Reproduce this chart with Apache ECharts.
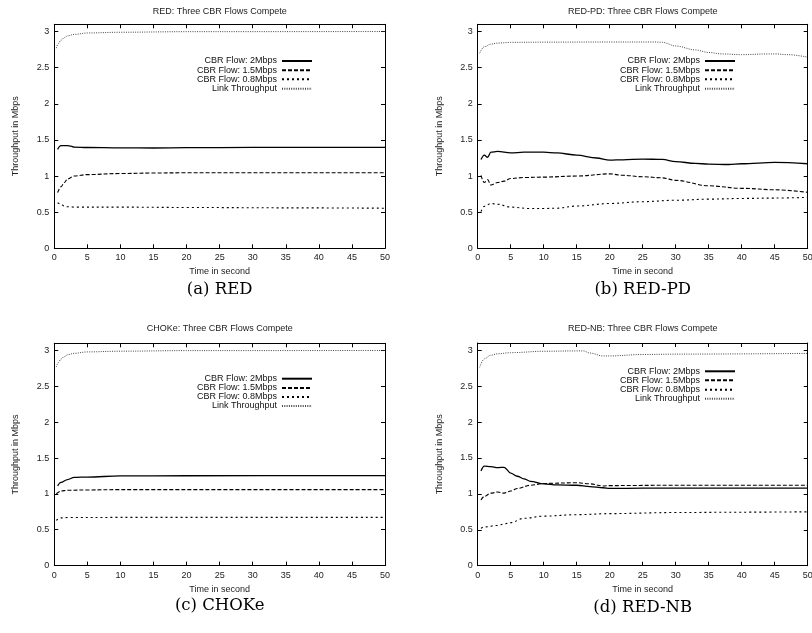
<!DOCTYPE html>
<html>
<head>
<meta charset="utf-8">
<script src="https://cdn.jsdelivr.net/npm/echarts@6/dist/echarts.min.js"></script>
<style>
  html, body { margin: 0; padding: 0; background: #fff; }
  #chart { width: 812px; height: 633px; }
</style>
</head>
<body>
<div id="chart"></div>
<script>
// 系列名称
const seriesNames = ['CBR Flow: 2Mbps', 'CBR Flow: 1.5Mbps', 'CBR Flow: 0.8Mbps', 'Link Throughput'];
const panelTitles = ['RED: Three CBR Flows Compete', 'RED-PD: Three CBR Flows Compete',
                     'CHOKe: Three CBR Flows Compete', 'RED-NB: Three CBR Flows Compete'];
const captions = ['(a) RED', '(b) RED-PD', '(c) CHOKe', '(d) RED-NB'];

// (a) RED  [time, Mbps]
const redFlow2 = [[0.5,1.37],[1,1.42],[2,1.42],[2.5,1.415],[3,1.40],[5,1.395],[10,1.39],[15,1.388],[20,1.392],[30,1.397],[40,1.398],[50,1.398]];
const redFlow15 = [[0.5,0.77],[1,0.85],[1.5,0.91],[2,0.96],[3,1.0],[5,1.02],[10,1.035],[15,1.042],[20,1.045],[30,1.046],[50,1.046]];
const redFlow08 = [[0.5,0.63],[1,0.61],[1.5,0.585],[2,0.575],[3,0.57],[10,0.57],[20,0.565],[35,0.56],[50,0.555]];
const redLink = [[0.3,2.77],[0.6,2.83],[1,2.88],[1.5,2.915],[2,2.94],[3,2.96],[5,2.98],[10,2.99],[20,2.998],[50,3.0]];

// (b) RED-PD
const rpFlow2 = [[0.5,1.23],[1,1.29],[1.5,1.26],[2,1.33],[3,1.34],[5,1.32],[7,1.33],[10,1.33],[12,1.32],[15,1.29],[18,1.25],[20,1.22],[22,1.225],[25,1.235],[28,1.23],[30,1.20],[33,1.175],[35,1.165],[38,1.16],[40,1.17],[45,1.19],[50,1.17]];
const rpFlow15 = [[0.5,1.01],[1,0.91],[1.5,0.95],[2,0.875],[3,0.91],[4,0.93],[5,0.965],[7,0.98],[10,0.985],[15,1.0],[20,1.03],[22,1.01],[25,0.99],[28,0.975],[30,0.94],[35,0.865],[40,0.83],[45,0.81],[50,0.775]];
const rpFlow08 = [[0.5,0.51],[1,0.58],[2,0.62],[3,0.61],[5,0.57],[8,0.55],[10,0.55],[12,0.555],[15,0.585],[20,0.62],[25,0.645],[30,0.665],[35,0.68],[40,0.69],[45,0.695],[50,0.705]];
const rpLink = [[0.3,2.70],[1,2.79],[2,2.825],[3,2.84],[5,2.85],[10,2.853],[20,2.855],[27,2.855],[28,2.85],[30,2.80],[33,2.745],[35,2.71],[37,2.69],[40,2.68],[44,2.69],[45,2.69],[47,2.68],[50,2.645]];

// (c) CHOKe
const chFlow2 = [[0.5,1.11],[1,1.16],[2,1.20],[3,1.23],[5,1.235],[10,1.25],[20,1.253],[50,1.255]];
const chFlow15 = [[0.3,1.0],[1,1.04],[2,1.05],[5,1.055],[10,1.06],[50,1.06]];
const chFlow08 = [[0.3,0.63],[1,0.665],[2,0.67],[10,0.672],[50,0.672]];
const chLink = [[0.3,2.77],[0.6,2.83],[1,2.88],[1.5,2.915],[2,2.94],[3,2.96],[5,2.98],[10,2.99],[20,2.998],[50,3.0]];

// (d) RED-NB
const nbFlow2 = [[0.5,1.32],[1,1.385],[2,1.38],[3,1.365],[4,1.37],[5,1.29],[6,1.245],[7,1.21],[8,1.175],[10,1.14],[12,1.125],[15,1.12],[17,1.10],[19,1.085],[20,1.075],[25,1.08],[50,1.08]];
const nbFlow15 = [[0.5,0.915],[1,0.965],[2,1.01],[3,1.025],[4,1.01],[5,1.04],[6,1.075],[8,1.12],[10,1.145],[15,1.155],[17,1.14],[19,1.11],[20,1.115],[30,1.12],[50,1.12]];
const nbFlow08 = [[0.5,0.52],[1,0.54],[3,0.56],[4,0.58],[5,0.60],[7,0.66],[10,0.69],[15,0.71],[20,0.725],[30,0.74],[40,0.745],[50,0.75]];
const nbLink = [[0.3,2.76],[1,2.88],[2,2.93],[3,2.95],[5,2.965],[10,2.985],[15,2.99],[16,2.99],[17,2.96],[19,2.92],[20,2.92],[25,2.94],[30,2.945],[50,2.955]];

const panelData = [
    [redFlow2, redFlow15, redFlow08, redLink],
    [rpFlow2, rpFlow15, rpFlow08, rpLink],
    [chFlow2, chFlow15, chFlow08, chLink],
    [nbFlow2, nbFlow15, nbFlow08, nbLink]
];

const SANS = '"Liberation Sans", Arial, sans-serif';
const SERIF = '"DejaVu Serif", serif';

// 每个子图的绘图区
const grids = [
    { left: 54.3, top: 24.3, width: 330.7, height: 224 },
    { left: 477.7, top: 24.3, width: 330, height: 224 },
    { left: 54.3, top: 343.3, width: 330.7, height: 222.3 },
    { left: 477.7, top: 343, width: 330, height: 222.7 }
];
// 图例位置 (right = 812 - 图例线段末端)
const legendRight = [499, 76, 499, 76];
const legendRows = [
    [61, 70.3, 79.3, 88.7],
    [61, 70.3, 79.3, 88.7],
    [378.7, 388, 397, 406],
    [371.3, 380.3, 389.7, 398.7]
];
const titleY = [11.7, 11.7, 329, 329];
const captionY = [290, 290, 606, 607.5];

const lineStyles = [
    { color: '#000', width: 1.3, type: 'solid' },
    { color: '#000', width: 1.1, type: [4, 2] },
    { color: '#000', width: 1.1, type: [2, 3] },
    { color: '#444', width: 1, type: [1, 1.3] }
];

function xAxisFor(g, pos) {
    return {
        type: 'value', gridIndex: g, position: pos, min: 0, max: 50, interval: 5,
        axisLine: { show: true, onZero: false, lineStyle: { color: '#000', width: 1 } },
        axisTick: { show: true, inside: true, length: 4, lineStyle: { color: '#000' } },
        axisLabel: { show: pos === 'bottom', margin: 5, color: '#222', fontSize: 9, fontFamily: SANS },
        splitLine: { show: false },
        name: pos === 'bottom' ? 'Time in second' : '',
        nameLocation: 'middle', nameGap: 19,
        nameTextStyle: { color: '#222', fontSize: 9, fontFamily: SANS }
    };
}

function yAxisFor(g, pos) {
    return {
        type: 'value', gridIndex: g, position: pos, min: 0, max: 3.1, interval: 0.5,
        axisLine: { show: true, onZero: false, lineStyle: { color: '#000', width: 1 } },
        axisTick: { show: true, inside: true, length: 4, lineStyle: { color: '#000' } },
        axisLabel: { show: pos === 'left', showMaxLabel: false, margin: 5, color: '#222', fontSize: 9, fontFamily: SANS },
        splitLine: { show: false },
        name: pos === 'left' ? 'Throughput in Mbps' : '',
        nameLocation: 'middle', nameGap: 34,
        nameTextStyle: { color: '#222', fontSize: 9, fontFamily: SANS }
    };
}

const xAxes = [], yAxes = [], series = [], legends = [], graphics = [];
grids.forEach(function (gr, g) {
    gr.outerBoundsMode = 'none';
    gr.containLabel = false;
    xAxes.push(xAxisFor(g, 'bottom'), xAxisFor(g, 'top'));
    yAxes.push(yAxisFor(g, 'left'), yAxisFor(g, 'right'));
    panelData[g].forEach(function (d, k) {
        series.push({
            name: seriesNames[k], type: 'line', xAxisIndex: 2 * g, yAxisIndex: 2 * g,
            data: d, symbol: 'none', smooth: 0.35, smoothMonotone: 'x',
            lineStyle: lineStyles[k], itemStyle: { color: lineStyles[k].color },
            z: 4 - k
        });
        legends.push({
            data: [seriesNames[k]], right: legendRight[g], top: legendRows[g][k] - 4.5,
            orient: 'horizontal', align: 'right', padding: 0, itemGap: 0,
            itemWidth: 30, itemHeight: 9, selectedMode: false,
            itemStyle: { opacity: 0 },
            textStyle: { color: '#111', fontSize: 9, fontFamily: SANS, lineHeight: 9 }
        });
    });
    const cx = gr.left + gr.width / 2;
    graphics.push({
        type: 'text', x: cx, y: titleY[g],
        style: { text: panelTitles[g], fill: '#222', font: '9px ' + SANS, align: 'center', verticalAlign: 'middle' }
    });
    graphics.push({
        type: 'text', x: cx, y: captionY[g],
        style: { text: captions[g], fill: '#000', font: '16.5px ' + SERIF, align: 'center', verticalAlign: 'middle' }
    });
});

const chart = echarts.init(document.getElementById('chart'), null, { renderer: 'canvas' });
chart.setOption({
    backgroundColor: '#fff',
    animation: false,
    textStyle: { fontFamily: SANS },
    grid: grids,
    xAxis: xAxes,
    yAxis: yAxes,
    legend: legends,
    graphic: graphics,
    series: series
});
</script>
</body>
</html>
